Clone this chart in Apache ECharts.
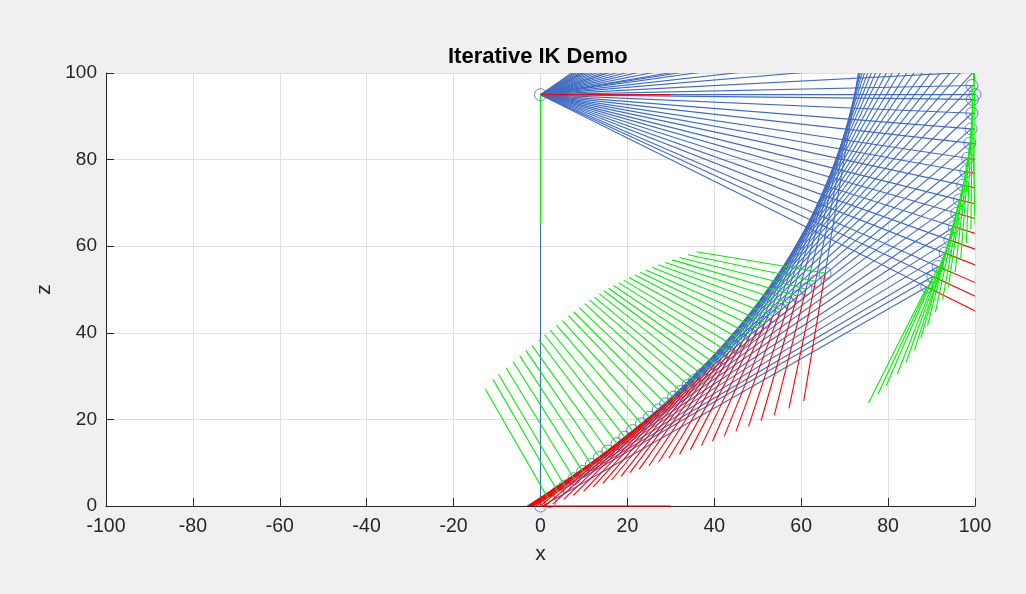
<!DOCTYPE html>
<html>
<head>
<meta charset="utf-8">
<script src="https://cdn.jsdelivr.net/npm/echarts@6/dist/echarts.min.js"></script>
<style>
html,body{margin:0;padding:0;background:#f0f0f0;}
#chart{width:1026px;height:594px;}
</style>
</head>
<body>
<div id="chart"></div>
<script>
// ---- data ----
const xTicks = [-100,-80,-60,-40,-20,0,20,40,60,80,100];
const zTicks = [0,20,40,60,80,100];
const baseX = 0, baseZ = 0;          // world origin
const shoulderX = 0, shoulderZ = 95;  // top of the column
const frameLen = 30;                  // length of drawn frame axes
// elbow joint per iteration
const elbowX = [100,98.8,95.1,89.1,
  81.9,83.7,85.4,86.9,88.3,89.7,90.9,92.1,93.2,94.3,95.2,96.1,96.9,97.5,98.1,98.6,99.0,99.3,99.5,99.6,
  99.3,99.4,99.3,99.1,98.8,98.3,97.9,97.2,96.4,95.8,95.2,94.2,93.1,91.5,90.3,88.9];
const elbowZ = [95,110.6,125.9,140.4,
  152.4,149.8,147.1,144.5,142.0,139.3,136.6,133.9,131.2,128.4,125.6,122.7,119.9,117.2,114.4,111.7,108.9,106.1,103.4,100.2,
  97.1,93.9,90.7,87.1,83.8,80.3,77.2,74.1,70.7,67.6,64.5,61.4,58.4,55.3,53.0,50.6];
// end effector per iteration
const handX = [200,192.8,173.9,142.1,
  65.5,63.3,61.1,59.1,57.2,55.3,53.5,51.7,50.0,48.3,46.6,44.9,43.3,41.7,40.1,38.6,37.1,35.5,34.0,32.3,
  30.6,28.8,27.1,25.1,23.2,21.2,19.4,17.6,15.5,13.6,11.7,9.7,7.7,5.6,4.0,2.2];
const handZ = [95,76.4,64.3,55.6,
  53.8,51.9,50.1,48.5,46.9,45.4,43.9,42.4,41.0,39.6,38.2,36.8,35.5,34.2,32.9,31.7,30.4,29.1,27.9,26.5,
  25.1,23.6,22.2,20.5,19.0,17.4,15.9,14.4,12.7,11.2,9.6,8.0,6.3,4.6,3.3,1.0];

// ---- build segments ----
const blueSegs = [[baseX, baseZ, shoulderX, shoulderZ]];
const redSegs = [[shoulderX, shoulderZ, shoulderX + frameLen, shoulderZ]];
const greenSegs = [[shoulderX, shoulderZ, shoulderX, shoulderZ - frameLen]];
const originRed = [[baseX, baseZ, baseX + frameLen, baseZ]];
const originGreen = [[baseX, baseZ, baseX, baseZ + frameLen]];
function frameAt(px, pz, fromX, fromZ) {
  const dx = px - fromX, dz = pz - fromZ;
  const L = Math.hypot(dx, dz);
  const rx = dx / L * frameLen, rz = dz / L * frameLen;
  redSegs.push([px, pz, px + rx, pz + rz]);
  greenSegs.push([px, pz, px + rz, pz - rx]);
}
for (let i = 0; i < elbowX.length; i++) {
  blueSegs.push([shoulderX, shoulderZ, elbowX[i], elbowZ[i]]);
  blueSegs.push([elbowX[i], elbowZ[i], handX[i], handZ[i]]);
}
for (let i = 0; i < elbowX.length; i++) {
  frameAt(elbowX[i], elbowZ[i], shoulderX, shoulderZ);
  frameAt(handX[i], handZ[i], elbowX[i], elbowZ[i]);
}
const inView = p => p[0] >= -100 && p[0] <= 100 && p[1] >= 0 && p[1] <= 100;
let joints = [[baseX, baseZ], [shoulderX, shoulderZ]];
for (let i = 0; i < elbowX.length; i++) {
  joints.push([elbowX[i], elbowZ[i]]);
  joints.push([handX[i], handZ[i]]);
}
joints = joints.filter(inView);

const BLUE = '#3f6cc2', RED = '#ff0000', GREEN = '#00f000';
function segSeries(data, color, z, clip) {
  return {
    type: 'custom', data: data, clip: clip !== false, z: z, silent: true,
    encode: {x: [0, 2], y: [1, 3]},
    renderItem: function (params, api) {
      const p1 = api.coord([api.value(0), api.value(1)]);
      const p2 = api.coord([api.value(2), api.value(3)]);
      return {type: 'line', shape: {x1: p1[0], y1: p1[1], x2: p2[0], y2: p2[1]},
              style: {stroke: color, lineWidth: 1.1, fill: null}};
    }
  };
}

const chart = echarts.init(document.getElementById('chart'), null, {renderer: 'canvas'});
const FONT = '"Liberation Sans", Arial, Helvetica, sans-serif';
chart.setOption({
  backgroundColor: '#f0f0f0',
  animation: false,
  title: {
    text: 'Iterative IK Demo', left: 448, top: 46, padding: 0,
    textStyle: {fontFamily: FONT, fontSize: 22, fontWeight: 'bold', color: '#000'}
  },
  grid: {left: 106, top: 73, width: 869, height: 433, show: true, backgroundColor: '#ffffff', borderWidth: 0},
  xAxis: {
    type: 'value', min: xTicks[0], max: xTicks[xTicks.length - 1], interval: 20,
    axisLine: {show: true, onZero: false, lineStyle: {color: '#262626', width: 1}},
    axisTick: {show: true, inside: true, length: 8, lineStyle: {color: '#262626'}},
    axisLabel: {color: '#262626', fontSize: 19.5, margin: 11, fontFamily: FONT},
    splitLine: {show: true, lineStyle: {color: '#dfdfdf', width: 1}},
    name: 'x', nameLocation: 'middle', nameGap: 38,
    nameTextStyle: {fontSize: 21, color: '#262626', fontFamily: FONT}
  },
  yAxis: {
    type: 'value', min: zTicks[0], max: zTicks[zTicks.length - 1], interval: 20,
    axisLine: {show: true, onZero: false, lineStyle: {color: '#262626', width: 1}},
    axisTick: {show: true, inside: true, length: 8, lineStyle: {color: '#262626'}},
    axisLabel: {color: '#262626', fontSize: 19, margin: 9, fontFamily: FONT},
    splitLine: {show: true, lineStyle: {color: '#dfdfdf', width: 1}},
    name: 'z', nameLocation: 'middle', nameGap: 50,
    nameTextStyle: {fontSize: 21, color: '#262626', fontFamily: FONT}
  },
  series: [
    segSeries(originGreen, GREEN, 1),
    segSeries(blueSegs, BLUE, 2),
    {
      type: 'scatter', data: joints, symbol: 'circle', symbolSize: 12, clip: false, z: 3, silent: true,
      itemStyle: {color: 'rgba(0,0,0,0)', borderColor: BLUE, borderWidth: 1}
    },
    segSeries(redSegs, RED, 4),
    segSeries(greenSegs, GREEN, 5),
    segSeries(originRed, RED, 10, false)
  ]
});
</script>
</body>
</html>
